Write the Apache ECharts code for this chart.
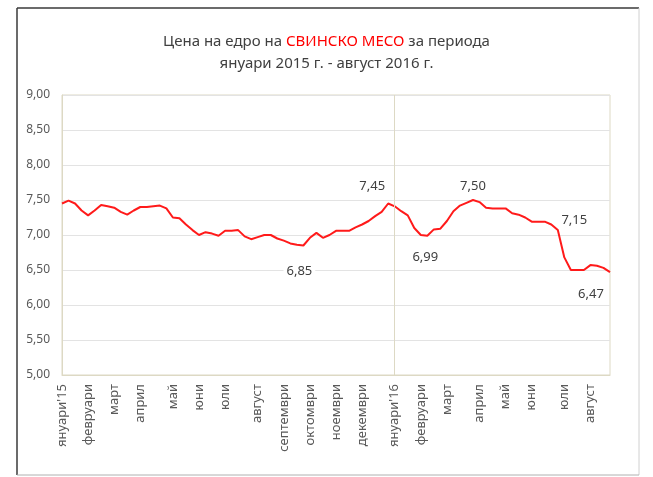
<!DOCTYPE html>
<html>
<head>
<meta charset="utf-8">
<script src="https://cdn.jsdelivr.net/npm/echarts@6/dist/echarts.min.js"></script>
<style>
  html, body { margin: 0; padding: 0; background: #fff; }
  #chart { width: 653px; height: 477px; }
</style>
</head>
<body>
<div id="chart"></div>
<script>
// месеци и број на седмици во секој месец
var months = ["януари'15", 'февруари', 'март', 'април', 'май', 'юни', 'юли', 'август', 'септември', 'октомври', 'ноември', 'декември',
              "януари'16", 'февруари', 'март', 'април', 'май', 'юни', 'юли', 'август'];
var weeksPerMonth = [4, 4, 4, 5, 4, 4, 5, 4, 4, 4, 4, 5, 4, 4, 5, 4, 4, 5, 4, 4];

// цена по седмици (лв./кг)
var prices = [
  7.45, 7.49, 7.45, 7.35, 7.28, 7.35, 7.43, 7.41, 7.39, 7.33,
  7.29, 7.35, 7.40, 7.40, 7.41, 7.42, 7.38, 7.25, 7.24, 7.15,
  7.07, 7.00, 7.04, 7.02, 6.99, 7.06, 7.06, 7.07, 6.98, 6.94,
  6.97, 7.00, 7.00, 6.95, 6.92, 6.88, 6.86, 6.85, 6.96, 7.03,
  6.96, 7.00, 7.06, 7.06, 7.06, 7.11, 7.15, 7.20, 7.27, 7.33,
  7.45, 7.41, 7.34, 7.28, 7.10, 7.00, 6.99, 7.08, 7.09, 7.20,
  7.34, 7.42, 7.46, 7.50, 7.47, 7.39, 7.38, 7.38, 7.38, 7.31,
  7.29, 7.25, 7.19, 7.19, 7.19, 7.15, 7.07, 6.68, 6.50, 6.50,
  6.50, 6.57, 6.56, 6.53, 6.47
];

// точки со ознака и поместување на ознаката
var labelIdx = [37, 50, 56, 63, 75, 84];
var labelOffset = [[-4, 26], [-16, -17], [-2, 22], [0, -14], [23, -4], [-19, 22]];

var separatorIdx = 51; // почеток на 2016

var categories = [];
months.forEach(function (m, i) {
  for (var w = 0; w < weeksPerMonth[i]; w++) {
    categories.push(w === 0 ? m : '');
  }
});

function fmt(v) {
  return v.toFixed(2).replace('.', ',');
}

var font = 'Noto Sans';

var chart = echarts.init(document.getElementById('chart'));

var option = {
  animation: false,
  backgroundColor: '#fff',
  textStyle: { fontFamily: font },
  title: {
    left: 'center',
    top: 26,
    text: '{a|Цена на едро на }{b|СВИНСКО МЕСО}{a| за периода}\n{a|януари 2015 г. - август 2016 г.}',
    textStyle: {
      fontWeight: 'normal',
      rich: {
        a: { fontFamily: font, fontSize: 15, fontWeight: 'normal', color: '#404040', lineHeight: 22 },
        b: { fontFamily: font, fontSize: 15, fontWeight: 'normal', color: '#ff0000', lineHeight: 22 }
      }
    }
  },
  graphic: [
    { type: 'line', shape: { x1: 17, y1: 8, x2: 639, y2: 8 }, style: { stroke: '#3a3a3a', lineWidth: 1.5 } },
    { type: 'line', shape: { x1: 17, y1: 8, x2: 17, y2: 475 }, style: { stroke: '#3a3a3a', lineWidth: 1.5 } },
    { type: 'line', shape: { x1: 639, y1: 8, x2: 639, y2: 475 }, style: { stroke: '#d0d0d0', lineWidth: 1 } },
    { type: 'line', shape: { x1: 17, y1: 475, x2: 639, y2: 475 }, style: { stroke: '#b0b0b0', lineWidth: 1 } }
  ],
  grid: {
    left: 62,
    right: 43,
    top: 95,
    bottom: 102,
    show: true,
    borderColor: '#ddd9c4',
    borderWidth: 1
  },
  xAxis: {
    type: 'category',
    data: categories,
    boundaryGap: false,
    axisLine: { lineStyle: { color: '#ddd9c4' } },
    axisTick: { show: false },
    axisLabel: {
      interval: 0,
      rotate: 90,
      margin: 9,
      fontSize: 13,
      color: '#595959',
      fontFamily: font
    }
  },
  yAxis: {
    type: 'value',
    min: 5,
    max: 9,
    interval: 0.5,
    axisLine: { show: true, lineStyle: { color: '#ddd9c4' } },
    axisTick: { show: false },
    splitLine: { lineStyle: { color: '#e3e3e3' } },
    axisLabel: {
      margin: 12,
      fontSize: 12,
      color: '#595959',
      fontFamily: font,
      formatter: function (v) { return fmt(v); }
    }
  },
  series: [{
    type: 'line',
    data: prices,
    showSymbol: false,
    lineStyle: { color: '#ff1a1a', width: 2 },
    markLine: {
      silent: true,
      symbol: 'none',
      label: { show: false },
      lineStyle: { color: '#ddd9c4', type: 'solid', width: 1 },
      data: [{ xAxis: separatorIdx }]
    },
    markPoint: {
      symbol: 'circle',
      symbolSize: 1,
      itemStyle: { color: 'rgba(0,0,0,0)' },
      label: {
        show: true,
        position: 'inside',
        fontSize: 13,
        color: '#404040',
        fontFamily: font,
        backgroundColor: '#fff',
        padding: [0, 3]
      },
      data: labelIdx.map(function (idx, k) {
        return {
          coord: [idx, prices[idx]],
          value: fmt(prices[idx]),
          label: { offset: labelOffset[k] }
        };
      })
    }
  }]
};

chart.setOption(option);
</script>
</body>
</html>
